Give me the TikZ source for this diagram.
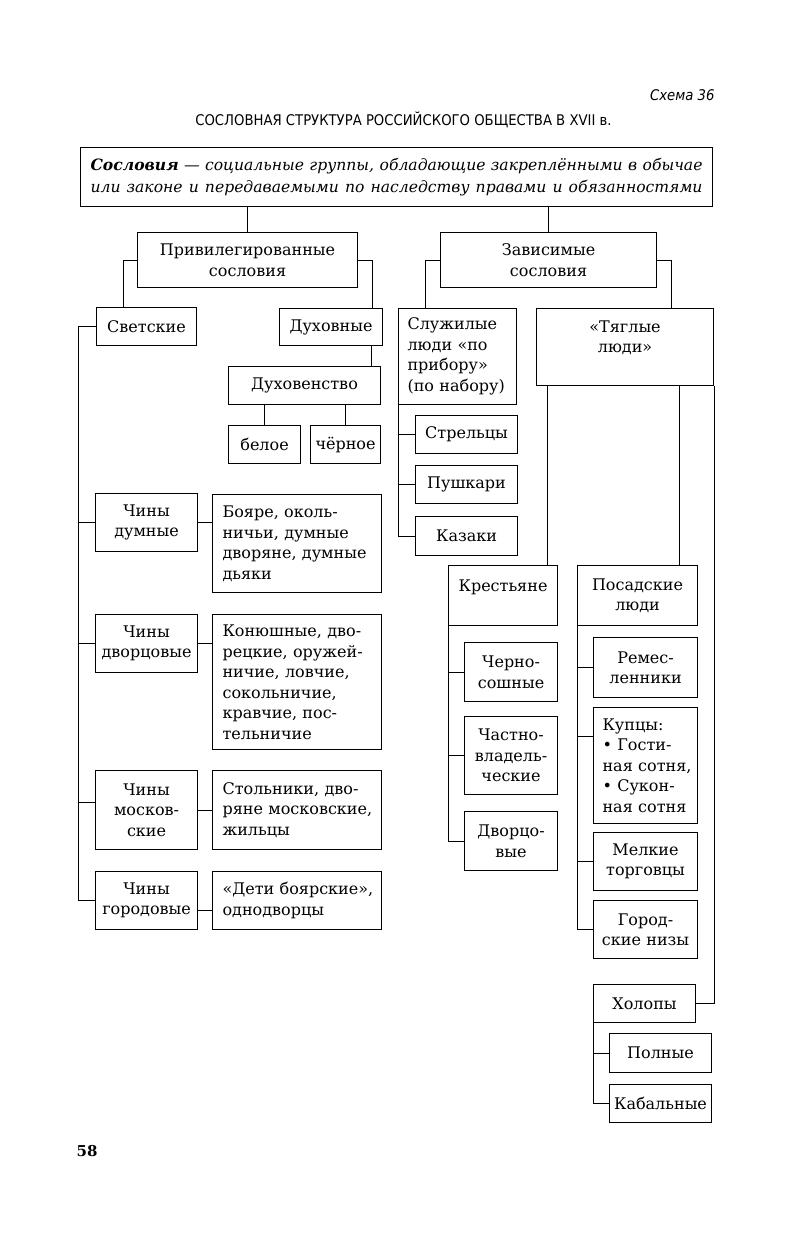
\documentclass[tikz,border=0pt]{standalone}
\usepackage{fontspec}
\setmainfont{DejaVu Serif}
\newfontfamily\condf{DejaVu Sans Condensed}
\usetikzlibrary{calc}
\newcommand\bx[8]{%
 \pgfmathsetmacro\bxw{#4-#2}%
 \pgfmathsetmacro\bxh{#5-#3}%
 \pgfmathsetmacro\bxt{#4-#2-2*#7}%
 \node[box,align=#6,inner xsep=#7pt,text width=\bxt pt,minimum width=\bxw pt,minimum height=\bxh pt] (#1) at (#2,#3) {#8};}
\begin{document}
\begin{tikzpicture}[x=1pt,y=-1pt,
  box/.style={draw,line width=1.1pt,inner ysep=0pt,anchor=north west,font=\fontsize{16}{20.5}\selectfont},
  conn/.style={line width=1pt}]
\useasboundingbox (0,0) rectangle (791,1245);
\fill[white] (0,0) rectangle (791,1245);
% headings
\node[font=\condf\itshape\fontsize{14.7}{16}\selectfont,anchor=east] (schema) at (718,95) {Схема 36};
\node[font=\condf\fontsize{14.7}{16}\selectfont] (title) at (403.5,120) {СОСЛОВНАЯ СТРУКТУРА РОССИЙСКОГО ОБЩЕСТВА В XVII в.};
\node[draw,line width=1.1pt,anchor=north west,minimum width=632pt,minimum height=59pt,inner xsep=10pt,inner ysep=0pt,align=left,font=\fontsize{15.6}{22}\selectfont\itshape] (hdr) at (80,147)
 {\makebox[612pt][s]{\textbf{Сословия} — социальные группы, обладающие закреплёнными в обычае}\\
  \makebox[612pt][s]{или законе и передаваемыми по наследству правами и обязанностями}};
% boxes
\bx{priv}{137}{232}{357}{287}{center}{4}{Привилегированные\\сословия}
\bx{zav}{440}{232}{656}{287}{center}{4}{Зависимые\\сословия}
\bx{svet}{96}{307}{196}{345}{center}{3}{Светские}
\bx{dukh}{279}{308}{382}{345}{center}{3}{Духовные}
\bx{dukhov}{228}{366}{380}{404}{center}{3}{Духовенство}
\bx{beloe}{228}{425}{300}{463}{center}{3}{белое}
\bx{chernoe}{310}{425}{380}{463}{center}{3}{чёрное}
\bx{sluzh}{398}{308}{516}{404}{left}{9}{Служилые\\люди~«по\\прибору»\\(по~набору)}
\bx{strel}{415}{415}{517}{453}{center}{3}{Стрельцы}
\bx{pushk}{415}{465}{517}{503}{center}{3}{Пушкари}
\bx{kaz}{415}{516}{517}{555}{center}{3}{Казаки}
\bx{tyag}{536}{308}{713}{385}{center}{3}{«Тяглые\\люди»\\\mbox{}}
\bx{kres}{448}{565}{557}{625}{center}{3}{Крестьяне\\\mbox{}}
\bx{posad}{577}{565}{697}{625}{center}{3}{Посадские\\люди}
\bx{chern}{464}{642}{557}{701}{center}{3}{Черно-\\сошные}
\bx{chast}{464}{716}{557}{794}{center}{3}{Частно-\\владель-\\ческие}
\bx{dvorts}{464}{811}{557}{870}{center}{3}{Дворцо-\\вые}
\bx{remes}{593}{637}{697}{697}{center}{3}{Ремес-\\ленники}
\bx{kup}{593}{707}{697}{823}{left}{9}{Купцы:\\•~Гости-\\ная~сотня,\\•~Сукон-\\ная~сотня}
\bx{melk}{593}{832}{697}{890}{center}{3}{Мелкие\\торговцы}
\bx{gorod}{593}{900}{697}{958}{center}{3}{Город-\\ские~низы}
\bx{kholop}{593}{984}{695}{1022}{center}{3}{Холопы}
\bx{poln}{609}{1033}{711}{1072}{center}{3}{Полные}
\bx{kabal}{609}{1084}{711}{1122}{center}{3}{Кабальные}
\bx{chd}{95}{493}{197}{551}{center}{2}{Чины\\думные}
\bx{boyar}{212}{494}{381}{592}{left}{10}{Бояре,~околь-\\ничьи,~думные\\дворяне,~думные\\дьяки}
\bx{chdv}{95}{614}{197}{672}{center}{2}{Чины\\дворцовые}
\bx{kon}{212}{614}{381}{749}{left}{10}{Конюшные,~дво-\\рецкие,~оружей-\\ничие,~ловчие,\\сокольничие,\\кравчие,~пос-\\тельничие}
\bx{chm}{95}{770}{197}{849}{center}{2}{Чины\\москов-\\ские}
\bx{stol}{212}{770}{381}{849}{left}{10}{Стольники,~дво-\\ряне~московские,\\жильцы}
\bx{chg}{95}{871}{197}{929}{center}{2}{Чины\\городовые}
\bx{deti}{212}{871}{381}{929}{left}{10}{«Дети~боярские»,\\однодворцы}
\node[font=\bfseries\fontsize{15}{18}\selectfont] (pg) at (87,1151) {58};
% connectors
\draw[conn] (priv.north) -- (priv.north |- hdr.south);
\draw[conn] (zav.north) -- (zav.north |- hdr.south);
\draw[conn] (priv.west) -- ++(-14,0) coordinate (a1) -- (a1 |- svet.north);
\draw[conn] (priv.east) -- ++(14,0) coordinate (a2) -- (a2 |- dukh.north);
\draw[conn] (zav.west) -- ++(-15,0) coordinate (a3) -- (a3 |- sluzh.north);
\draw[conn] (zav.east) -- ++(14,0) coordinate (a4) -- (a4 |- tyag.north);
\draw[conn] ($(dukh.south east)+(-12,0)$) coordinate (a5) -- (a5 |- dukhov.north);
\draw[conn] (beloe.north) -- (beloe.north |- dukhov.south);
\draw[conn] (chernoe.north) -- (chernoe.north |- dukhov.south);
% svetskie
\draw[conn] (svet.west) -- ++(-18,0) coordinate (c1) -- (c1 |- chg.west) -- (chg.west);
\draw[conn] (c1 |- chd.west) -- (chd.west);
\draw[conn] (c1 |- chdv.west) -- (chdv.west);
\draw[conn] ($(c1 |- chm.west)+(0,-8)$) -- ($(chm.west)+(0,-8)$);
\draw[conn] (chd.east) -- (chd.east -| boyar.west);
\draw[conn] (chdv.east) -- (chdv.east -| kon.west);
\draw[conn] (chm.east) -- (chm.east -| stol.west);
\draw[conn] ($(chg.east)+(0,10)$) coordinate (c2) -- (c2 -| deti.west);
% sluzhilye
\draw[conn] (sluzh.south west) |- (kaz.west);
\draw[conn] (sluzh.south west |- strel.west) -- (strel.west);
\draw[conn] (sluzh.south west |- pushk.west) -- (pushk.west);
% tyaglye
\draw[conn] ($(tyag.south west)+(11,0)$) coordinate (t1) -- (t1 |- kres.north);
\draw[conn] ($(tyag.south west)+(143,0)$) coordinate (t2) -- (t2 |- posad.north);
\draw[conn] (tyag.south east) |- (kholop.east);
\draw[conn] (kres.south west) |- (dvorts.west);
\draw[conn] (kres.south west |- chern.west) -- (chern.west);
\draw[conn] (kres.south west |- chast.west) -- (chast.west);
\draw[conn] (posad.south west) |- (gorod.west);
\draw[conn] (posad.south west |- remes.west) -- (remes.west);
\draw[conn] ($(posad.south west |- kup.north)+(0,29)$) coordinate (p1) -- (p1 -| kup.west);
\draw[conn] (posad.south west |- melk.west) -- (melk.west);
\draw[conn] (kholop.south west) |- (kabal.west);
\draw[conn] (kholop.south west |- poln.west) -- (poln.west);
\end{tikzpicture}
\end{document}
